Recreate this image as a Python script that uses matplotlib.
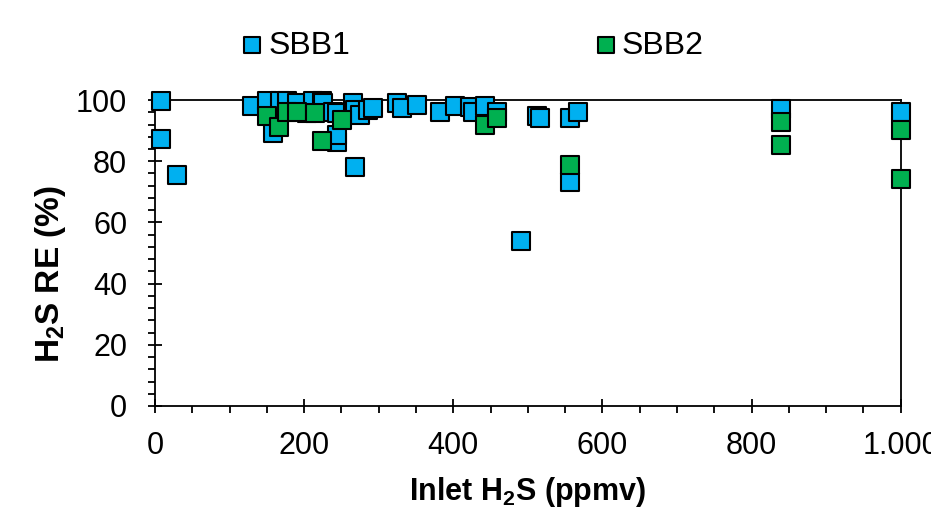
import matplotlib
matplotlib.use("Agg")
import matplotlib.pyplot as plt
from matplotlib.ticker import MultipleLocator, FixedLocator

plt.rcParams['font.family'] = ['Liberation Sans', 'DejaVu Sans']
plt.rcParams['mathtext.fontset'] = 'custom'
plt.rcParams['mathtext.rm'] = 'Liberation Sans'
plt.rcParams['mathtext.bf'] = 'Liberation Sans:bold'

# SBB1 data (inlet H2S ppmv, removal efficiency %)
sbb1_x = [8, 8, 30, 130, 150, 158, 168, 177, 190, 204, 212, 224, 225, 239, 244, 244, 244,
          265, 268, 275, 286, 292, 268, 324, 331, 351, 382, 402, 422, 426, 442, 458,
          491, 512, 516, 556, 567, 556, 840, 1000]
sbb1_y = [99.7, 87.3, 75.5, 98, 99.6, 89.2, 99.8, 99.8, 99, 95.8, 99.6, 99.6, 99, 96, 95.8, 86.3, 88.6,
          99, 96.7, 95, 96.7, 97.4, 78, 99, 97.4, 98.4, 96, 98, 97.7, 96, 98, 96,
          54, 94.8, 94, 94, 96, 73.2, 97, 96]

# SBB2 data
sbb2_x = [150, 166, 177, 190, 214, 224, 251, 442, 458, 556, 840, 840, 1000, 1000]
sbb2_y = [94.8, 91.2, 96, 96, 95.8, 86.6, 93.5, 91.8, 94, 78.8, 92.8, 85.3, 90.2, 74.2]

xtick_vals = [0, 200, 400, 600, 800, 1000]
xtick_labels = ['0', '200', '400', '600', '800', '1.000']

fig = plt.figure(figsize=(9.31, 5.08), dpi=100)
ax = fig.add_axes([0.1665, 0.2008, 0.801, 0.6023])

ax.scatter(sbb1_x, sbb1_y, s=160, marker='s', color='#00B0F0', edgecolors='black',
           linewidths=1.5, label='SBB1', clip_on=False, zorder=3)
ax.scatter(sbb2_x, sbb2_y, s=160, marker='s', color='#00B050', edgecolors='black',
           linewidths=1.5, label='SBB2', clip_on=False, zorder=4)

ax.set_xlim(0, 1000)
ax.set_ylim(0, 100)
ax.xaxis.set_major_locator(FixedLocator(xtick_vals))
ax.set_xticklabels(xtick_labels)
ax.xaxis.set_minor_locator(MultipleLocator(50))
ax.yaxis.set_major_locator(MultipleLocator(20))
ax.yaxis.set_minor_locator(MultipleLocator(4))

ax.tick_params(axis='both', which='major', direction='inout', length=10, width=1.3,
               labelsize=22, top=False, right=False)
ax.tick_params(axis='both', which='minor', direction='out', length=5, width=1.3)
ax.tick_params(axis='x', which='major', pad=13)
ax.tick_params(axis='y', which='major', pad=15)

for sp in ax.spines.values():
    sp.set_linewidth(1.3)

ax.set_xlabel(r'Inlet H$_\mathbf{2}$S (ppmv)', fontsize=22, fontweight='bold', labelpad=10)
ax.set_ylabel(r'H$_\mathbf{2}$S RE (%)', fontsize=24, fontweight='bold')
ax.yaxis.set_label_coords(-0.117, 0.43)

leg = fig.legend(loc='center', bbox_to_anchor=(0.503, 0.91), ncol=2, frameon=False,
                 fontsize=23, columnspacing=7.4, handletextpad=-0.1, handlelength=1.2,
                 markerscale=0.9)

fig.savefig('out.png', dpi=100)
